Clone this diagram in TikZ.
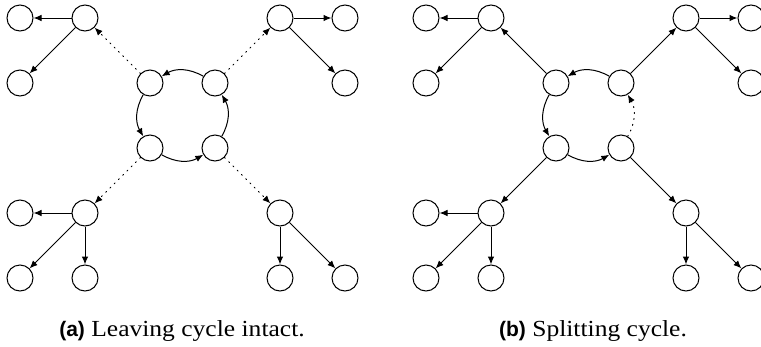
\documentclass[tikz,border=0pt]{standalone}
\usepackage{fontspec}
\setmainfont{Liberation Serif}[FakeStretch=1.11]
\newfontfamily\capsans{Liberation Sans}
\usetikzlibrary{arrows.meta}
\tikzset{
  vtx/.style={circle, draw, line width=1pt, minimum size=26pt, inner sep=0pt},
  arr/.style={line width=1pt, -{Latex[length=8pt,width=6.5pt]}},
  dotarr/.style={arr, dash pattern=on 1pt off 5pt, line cap=round},
  cyc/.style={bend right=30},
  captxt/.style={font=\fontsize{23}{26}\selectfont, inner sep=0pt, anchor=base}
}
\newcommand{\sublabel}[1]{{\capsans\bfseries\fontsize{21}{24}\selectfont #1}}
\begin{document}
\begin{tikzpicture}[x=1pt, y=-1pt]
\useasboundingbox (0,0) rectangle (761,346);
% ---------- panel (a) ----------
\node[vtx] (a1) at (20,18) {};
\node[vtx] (a2) at (85,18) {};
\node[vtx] (a3) at (20,83) {};
\node[vtx] (a4) at (280,18) {};
\node[vtx] (a5) at (345,18) {};
\node[vtx] (a6) at (345,83) {};
\node[vtx] (aTL) at (150,83) {};
\node[vtx] (aTR) at (215,83) {};
\node[vtx] (aBL) at (150,148) {};
\node[vtx] (aBR) at (215,148) {};
\node[vtx] (a7) at (20,213) {};
\node[vtx] (a8) at (85,213) {};
\node[vtx] (a9) at (20,278) {};
\node[vtx] (a10) at (85,278) {};
\node[vtx] (a11) at (280,213) {};
\node[vtx] (a12) at (280,278) {};
\node[vtx] (a13) at (345,278) {};
\draw[arr] (a2) -- (a1);
\draw[arr] (a2) -- (a3);
\draw[arr] (a4) -- (a5);
\draw[arr] (a4) -- (a6);
\draw[arr] (a8) -- (a7);
\draw[arr] (a8) -- (a9);
\draw[arr] (a8) -- (a10);
\draw[arr] (a11) -- (a12);
\draw[arr] (a11) -- (a13);
\draw[arr] (aTR) to[cyc] (aTL);
\draw[arr] (aTL) to[cyc] (aBL);
\draw[arr] (aBL) to[cyc] (aBR);
\draw[arr] (aBR) to[cyc] (aTR);
\draw[dotarr] (aTL) -- (a2);
\draw[dotarr] (aTR) -- (a4);
\draw[dotarr] (aBL) -- (a8);
\draw[dotarr] (aBR) -- (a11);
\node[captxt] (capa) at (182,336) {\sublabel{(a)} Leaving cycle intact.};
% ---------- panel (b) ----------
\node[vtx] (b1) at (426,18) {};
\node[vtx] (b2) at (491,18) {};
\node[vtx] (b3) at (426,83) {};
\node[vtx] (b4) at (686,18) {};
\node[vtx] (b5) at (751,18) {};
\node[vtx] (b6) at (751,83) {};
\node[vtx] (bTL) at (556,83) {};
\node[vtx] (bTR) at (621,83) {};
\node[vtx] (bBL) at (556,148) {};
\node[vtx] (bBR) at (621,148) {};
\node[vtx] (b7) at (426,213) {};
\node[vtx] (b8) at (491,213) {};
\node[vtx] (b9) at (426,278) {};
\node[vtx] (b10) at (491,278) {};
\node[vtx] (b11) at (686,213) {};
\node[vtx] (b12) at (686,278) {};
\node[vtx] (b13) at (751,278) {};
\draw[arr] (b2) -- (b1);
\draw[arr] (b2) -- (b3);
\draw[arr] (b4) -- (b5);
\draw[arr] (b4) -- (b6);
\draw[arr] (b8) -- (b7);
\draw[arr] (b8) -- (b9);
\draw[arr] (b8) -- (b10);
\draw[arr] (b11) -- (b12);
\draw[arr] (b11) -- (b13);
\draw[arr] (bTR) to[cyc] (bTL);
\draw[arr] (bTL) to[cyc] (bBL);
\draw[arr] (bBL) to[cyc] (bBR);
\draw[dotarr] (bBR) to[cyc] (bTR);
\draw[arr] (bTL) -- (b2);
\draw[arr] (bTR) -- (b4);
\draw[arr] (bBL) -- (b8);
\draw[arr] (bBR) -- (b11);
\node[captxt] (capb) at (593,336) {\sublabel{(b)} Splitting cycle.};
\end{tikzpicture}
\end{document}
